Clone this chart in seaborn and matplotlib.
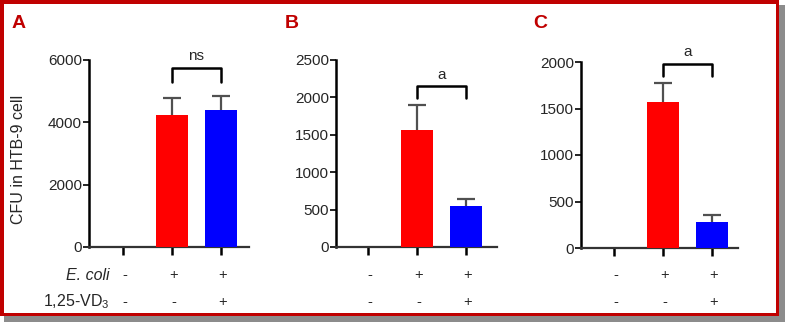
import matplotlib
matplotlib.use("Agg")
import matplotlib.pyplot as plt
from matplotlib.patches import Rectangle
import seaborn as sns
import pandas as pd
import numpy as np

sns.set_style("white")
plt.rcParams['font.family'] = ['Liberation Sans', 'DejaVu Sans']
plt.rcParams['mathtext.fontset'] = 'custom'
plt.rcParams['mathtext.rm'] = 'Liberation Sans'
plt.rcParams['mathtext.it'] = 'Liberation Sans:italic'

# ---- data ----
conditions = ["control", "E. coli", "E. coli + 1,25-VD3"]
bar_colors = ["white", "#FF0000", "#0000FF"]
panel_letters = ["A", "B", "C"]
means_a = [0, 4230, 4380]
err_a = [0, 540, 480]
means_b = [0, 1570, 545]
err_b = [0, 330, 95]
means_c = [0, 1570, 280]
err_c = [0, 200, 70]
ymax = [6000, 2500, 2000]
ystep = [2000, 500, 500]
sig_labels = ["ns", "a", "a"]
bracket_top = [5740, 2150, 1980]
bracket_bottom = [5290, 1990, 1850]
ecoli_signs = ["-", "+", "+"]
vd3_signs = ["-", "-", "+"]

W, H = 785, 322
fig = plt.figure(figsize=(W / 100, H / 100), dpi=100)

def px(x0, y0, x1, y1):
    # pixel box (top-left origin) -> figure fraction [l, b, w, h]
    return [x0 / W, (H - y1) / H, (x1 - x0) / W, (y1 - y0) / H]

panels = [
    dict(means=means_a, err=err_a, box=(89, 60, 249, 247), t0=123),
    dict(means=means_b, err=err_b, box=(336, 60, 497, 247), t0=368),
    dict(means=means_c, err=err_c, box=(581, 62, 738, 248), t0=614),
]
unit = 49.0
letter_x = [12, 285, 533]
tick_fs = 11

for i, p in enumerate(panels):
    x0, y0, x1, y1 = p["box"]
    ax = fig.add_axes(px(x0, y0, x1, y1))
    df = pd.DataFrame({"cond": conditions, "cfu": p["means"]})
    sns.barplot(data=df, x="cond", y="cfu", hue="cond", order=conditions,
                palette=bar_colors, legend=False, width=0.66, linewidth=0,
                saturation=1, errorbar=None, ax=ax, zorder=3)
    xs = np.arange(len(conditions))
    m = np.array(p["means"])
    e = np.array(p["err"])
    sel = e > 0
    ax.vlines(xs[sel], m[sel], m[sel] + e[sel], color="#505050", lw=1.6, zorder=2)
    ax.hlines(m[sel] + e[sel], xs[sel] - 0.19, xs[sel] + 0.19, color="#505050", lw=1.6, zorder=2)
    ax.set_xlim(-(p["t0"] - x0) / unit, 2 + (x1 - (p["t0"] + 2 * unit)) / unit)
    ax.set_ylim(0, ymax[i])
    ax.set_yticks(np.arange(0, ymax[i] + 1, ystep[i]))
    ax.set_xticks(xs)
    ax.set_xticklabels([])
    ax.set_xlabel("")
    if i == 0:
        ax.set_ylabel("CFU in HTB-9 cell", fontsize=11.5)
        ax.yaxis.set_label_coords((26 - x0) / (x1 - x0), 0.47)
    else:
        ax.set_ylabel("")
    for s in ["top", "right"]:
        ax.spines[s].set_visible(False)
    ax.spines["left"].set_linewidth(1.8)
    ax.spines["left"].set_color("black")
    ax.spines["bottom"].set_linewidth(1.6)
    ax.spines["bottom"].set_color("#333333")
    ax.tick_params(axis="y", direction="out", length=4, width=1.2, color="black",
                   labelsize=tick_fs, pad=1, left=True)
    ax.tick_params(axis="x", direction="out", length=6, width=1.8, color="black",
                   bottom=True)
    # significance bracket
    ax.plot([1, 1, 2, 2], [bracket_bottom[i], bracket_top[i], bracket_top[i], bracket_bottom[i]],
            color="black", lw=1.8, clip_on=False, zorder=5)
    ax.text(1.5, bracket_top[i] + ymax[i] * 0.025, sig_labels[i], ha="center", va="bottom",
            fontsize=tick_fs, clip_on=False)
    # sign rows
    for j in range(3):
        fx = (p["t0"] + j * unit + 2) / W
        fig.text(fx, (H - 275) / H, ecoli_signs[j], ha="center", va="center", fontsize=10.5)
        fig.text(fx, (H - 302) / H, vd3_signs[j], ha="center", va="center", fontsize=10.5)
    fig.text(letter_x[i] / W, (H - 23) / H, panel_letters[i], ha="left", va="center",
             fontsize=14, fontweight="bold", color="#C00000")

fig.text(110 / W, (H - 275) / H, "E. coli", ha="right", va="center", fontsize=11.5,
         style="italic")
fig.text(110 / W, (H - 302) / H, "1,25-VD$_3$", ha="right", va="center", fontsize=11.5)

# frame: red border with gray shadow
def rect_px(x0, y0, x1, y1, color):
    fig.patches.append(Rectangle((x0 / W, (H - y1) / H), (x1 - x0) / W, (y1 - y0) / H,
                                 transform=fig.transFigure, color=color, zorder=10, lw=0))

rect_px(779, 5, 785, 322, "#8C8C8C")
rect_px(4, 316, 785, 322, "#8C8C8C")
red = "#C00000"
rect_px(0, 0, 779, 3.5, red)
rect_px(0, 0, 3.5, 316, red)
rect_px(775.5, 0, 779, 316, red)
rect_px(0, 312.5, 779, 316, red)

fig.savefig("out.png", dpi=100)
